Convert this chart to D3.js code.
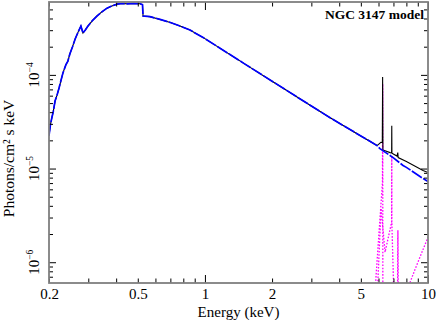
<!DOCTYPE html>
<html>
<head>
<meta charset="utf-8">
<script src="https://cdn.jsdelivr.net/npm/d3@7"></script>
<style>
  body { margin: 0; background: #fff; }
  svg text { font-family: "Liberation Serif", "DejaVu Serif", serif; fill: #000; }
</style>
</head>
<body>
<script>
// continuum model (blue), energies in keV, photons/cm2 s keV
var contE = [0.200, 0.203, 0.206, 0.209, 0.213, 0.217, 0.222, 0.226, 0.231, 0.238, 0.243, 0.248, 0.255, 0.262,
    0.270, 0.278, 0.284, 0.291, 0.299, 0.313, 0.328, 0.345, 0.364, 0.383, 0.404, 0.425, 0.448, 0.48,
    0.512, 0.525, 0.528, 0.567, 0.629, 0.70, 0.773, 0.857, 1.0, 1.5, 2.0, 3.0,
    3.64, 5.0, 5.91, 6.09, 7.0, 7.73, 8.0, 9.5, 10.0];
var contF = [2.25e-5, 2.95e-5, 3.49e-5, 4.05e-5, 5.29e-5, 6.0e-5, 7.28e-5, 8.6e-5, 1.05e-4, 1.28e-4, 1.40e-4, 1.67e-4, 2.0e-4, 2.42e-4,
    2.86e-4, 3.32e-4, 2.80e-4, 3.02e-4, 3.32e-4, 3.80e-4, 4.25e-4, 4.70e-4, 5.16e-4, 5.45e-4, 5.69e-4, 5.78e-4, 5.74e-4, 5.80e-4,
    5.74e-4, 5.62e-4, 4.25e-4, 4.19e-4, 3.91e-4, 3.62e-4, 3.32e-4, 3.01e-4, 2.44e-4, 1.32e-4, 8.57e-5, 4.65e-5,
    3.49e-5, 2.23e-5, 1.76e-5, 1.63e-5, 1.30e-5, 1.08e-5, 1.03e-5, 7.83e-6, 7.28e-6];

// total model (black): same as continuum below 5.91 keV, then the Fe K region
var totalTailE = [6.15, 6.24, 6.26, 6.28, 6.76, 6.87, 6.88, 6.89, 7.26, 7.32, 7.35, 8.0, 9.5, 10.0];
var totalTailF = [1.91e-5, 1.90e-5, 9.5e-5, 1.58e-5, 1.48e-5, 1.47e-5, 2.87e-5, 1.46e-5, 1.36e-5, 1.48e-5, 1.31e-5, 1.19e-5, 9.53e-6, 9.06e-6];
var totalE = contE.slice(0, 43).concat(totalTailE);
var totalF = contF.slice(0, 43).concat(totalTailF);

// line components (magenta dotted)
var kaE = [5.79, 6.25, 6.265, 6.275];
var kaF = [5.0e-7, 7.1e-6, 8.0e-5, 4.0e-7];
var kbE = [5.91, 6.16, 6.42, 6.87, 6.88, 6.885, 7.04];
var kbF = [3.9e-7, 3.75e-6, 1.28e-6, 2.67e-6, 1.37e-5, 2.67e-6, 3.9e-7];
var niE = [7.30, 7.33, 7.36];
var niF = [3.9e-7, 2.2e-6, 3.9e-7];
var reflE = [7.73, 8.75, 10.0];
var reflF = [3.9e-7, 8.4e-7, 1.85e-6];

var xMajor = [1, 10];
var xMinor = [0.2, 0.3, 0.4, 0.5, 0.6, 0.7, 0.8, 0.9, 2, 3, 4, 5, 6, 7, 8, 9];
var xLabels = [0.2, 0.5, 1, 2, 5, 10];
var yMajor = [1e-6, 1e-5, 1e-4];
var yMinor = [7e-7, 8e-7, 9e-7, 2e-6, 3e-6, 4e-6, 5e-6, 6e-6, 7e-6, 8e-6, 9e-6,
    2e-5, 3e-5, 4e-5, 5e-5, 6e-5, 7e-5, 8e-5, 9e-5, 2e-4, 3e-4, 4e-4, 5e-4];
var yLabels = ["\u22126", "\u22125", "\u22124"];

var W = 436, H = 320;
var margin = { top: 2, right: 8, bottom: 37, left: 49 };
var width = W - margin.left - margin.right,
    height = H - margin.top - margin.bottom;

var svg = d3.select("body").append("svg")
    .attr("width", W)
    .attr("height", H);
var g = svg.append("g")
    .attr("transform", "translate(" + margin.left + "," + margin.top + ")");

var x = d3.scaleLog().domain([0.2, 10]).range([0, width]);
var y = d3.scaleLog().domain([6e-7, 6e-4]).range([height, 0]);

g.append("clipPath").attr("id", "clip")
    .append("rect").attr("width", width).attr("height", height);

var line = d3.line()
    .x(function(d) { return x(d[0]); })
    .y(function(d) { return y(d[1]); });

function pairs(es, fs) {
    return es.map(function(e, i) { return [e, fs[i]]; });
}

var plot = g.append("g").attr("clip-path", "url(#clip)");

[[kaE, kaF], [kbE, kbF], [niE, niF], [reflE, reflF]].forEach(function(c) {
    plot.append("path")
        .datum(pairs(c[0], c[1]))
        .attr("fill", "none")
        .attr("stroke", "#ff00ff")
        .attr("stroke-width", 1.3)
        .attr("stroke-dasharray", "1.6,1.6")
        .attr("d", line);
});

plot.append("path")
    .datum(pairs(totalE, totalF))
    .attr("fill", "none")
    .attr("stroke", "#000")
    .attr("stroke-width", 1.1)
    .attr("d", line);

plot.append("path")
    .datum(pairs(contE, contF))
    .attr("fill", "none")
    .attr("stroke", "#0000ff")
    .attr("stroke-width", 1.7)
    .attr("stroke-dasharray", "12,1.6")
    .attr("d", line);

// ticks, all pointing into the frame
function tickAxis(axis, vals, len, tr) {
    g.append("g")
        .attr("transform", tr)
        .call(axis.tickValues(vals).tickSize(-len).tickFormat(""))
        .call(function(s) {
            s.select(".domain").remove();
            s.selectAll("line").attr("stroke", "#000").attr("stroke-width", 1);
        });
}
tickAxis(d3.axisBottom(x), xMajor, 8, "translate(0," + height + ")");
tickAxis(d3.axisBottom(x), xMinor, 4.5, "translate(0," + height + ")");
tickAxis(d3.axisTop(x), xMajor, 8, "translate(0,0)");
tickAxis(d3.axisTop(x), xMinor, 4.5, "translate(0,0)");
tickAxis(d3.axisLeft(y), yMajor, 7, "translate(0,0)");
tickAxis(d3.axisLeft(y), yMinor, 4, "translate(0,0)");
tickAxis(d3.axisRight(y), yMajor, 7, "translate(" + width + ",0)");
tickAxis(d3.axisRight(y), yMinor, 4, "translate(" + width + ",0)");

g.append("rect")
    .attr("width", width)
    .attr("height", height)
    .attr("fill", "none")
    .attr("stroke", "#7f7f7f")
    .attr("stroke-width", 1.8);

// x tick labels
g.append("g")
    .attr("transform", "translate(0," + height + ")")
    .call(d3.axisBottom(x).tickValues(xLabels).tickSize(0).tickPadding(5)
        .tickFormat(function(d) { return String(d); }))
    .call(function(s) {
        s.select(".domain").remove();
        s.selectAll("text")
            .attr("font-family", "Liberation Serif")
            .attr("font-size", 15)
            .attr("fill", "#000");
    });

// y tick labels, rotated like the original
var yl = g.append("g");
yMajor.forEach(function(v, i) {
    var t = yl.append("text")
        .attr("transform", "translate(-10," + y(v) + ") rotate(-90)")
        .attr("text-anchor", "middle")
        .attr("font-size", 15);
    t.append("tspan").text("10");
    t.append("tspan")
        .attr("font-size", 9.5)
        .attr("dy", -6)
        .text(yLabels[i]);
});

svg.append("text")
    .attr("x", margin.left + width / 2)
    .attr("y", 317)
    .attr("text-anchor", "middle")
    .attr("font-size", 15)
    .text("Energy (keV)");

svg.append("text")
    .attr("transform", "translate(14," + (margin.top + height / 2 + 16) + ") rotate(-90)")
    .attr("text-anchor", "middle")
    .attr("font-size", 15.5)
    .text("Photons/cm\u00b2 s keV");

svg.append("text")
    .attr("x", 424)
    .attr("y", 19)
    .attr("text-anchor", "end")
    .attr("font-size", 13.5)
    .attr("font-weight", "bold")
    .text("NGC 3147 model");
</script>
</body>
</html>
